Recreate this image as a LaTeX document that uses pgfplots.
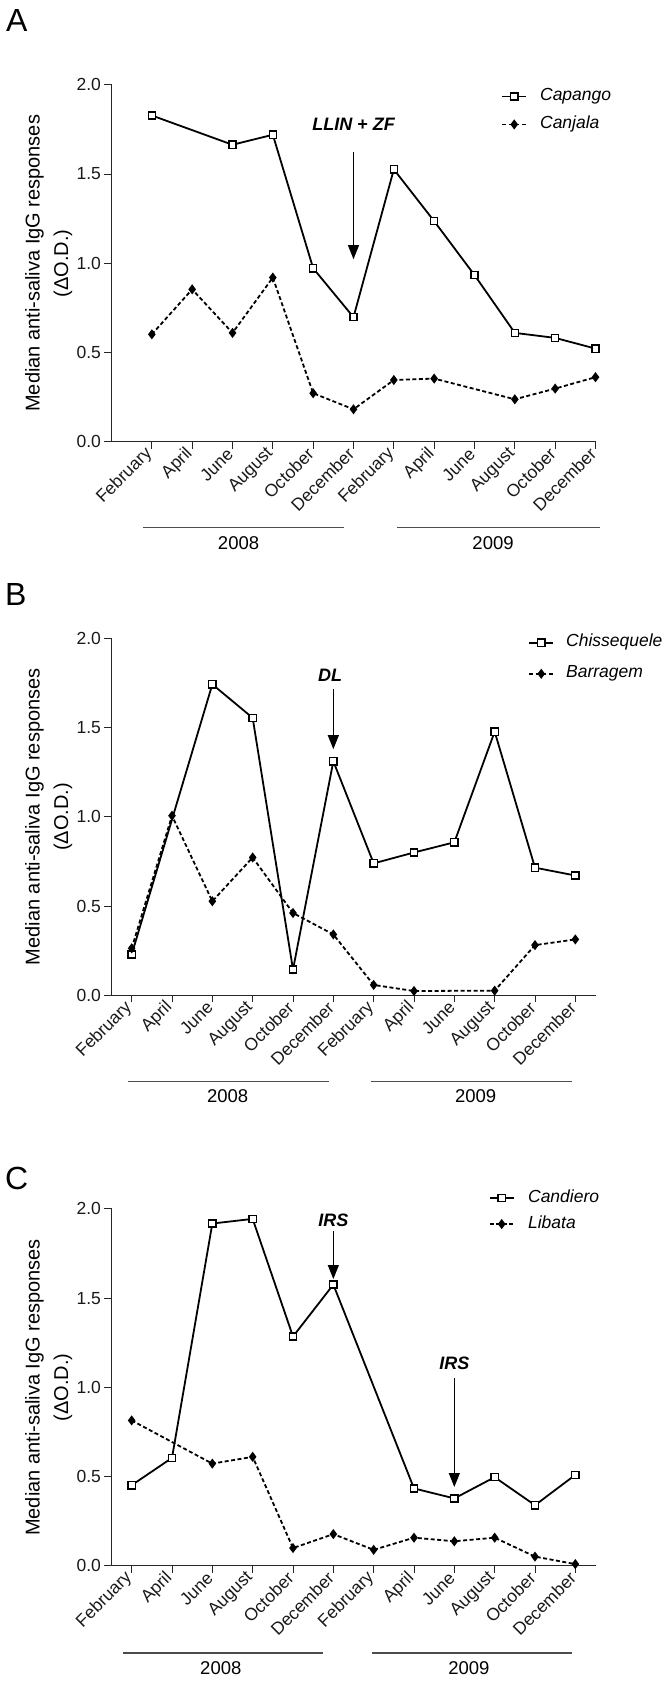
\documentclass[border=0pt]{standalone}
\usepackage{fontspec}
\setmainfont{Liberation Sans}
\usepackage{pgfplots}
\pgfplotsset{compat=1.18}
\usetikzlibrary{arrows.meta}
\pgfplotsset{
  panel/.style={
    scale only axis, width=484bp, height=357bp,
    axis x line*=bottom, axis y line*=left,
    axis line style={line width=0.9bp, black!85},
    every tick/.style={line width=0.9bp, black!85},
    tick align=outside, major tick length=7bp,
    ymin=0, ymax=2, ytick={0,0.5,1,1.5,2},
    /pgf/number format/assume math mode=true,
    yticklabel style={/pgf/number format/.cd, fixed, fixed zerofill, precision=1, /tikz/.cd, font=\fontsize{17.5bp}{20bp}\selectfont, text=black!90},
    xtick={0,...,11},
    xticklabels={February,April,June,August,October,December,February,April,June,August,October,December},
    xticklabel style={rotate=45, anchor=east, font=\fontsize{17.5bp}{20bp}\selectfont, text=black!90},
    ylabel={Median anti-saliva IgG responses\\(ΔO.D.)},
    ylabel style={align=center, font=\fontsize{20bp}{28.5bp}\selectfont, at={(axis description cs:-0.130,0.5)}, anchor=center},
    clip=false,
    legend cell align=left,
    legend style={draw=none, fill=none, inner sep=0pt, font=\fontsize{17.5bp}{20bp}\selectfont\itshape, nodes={inner sep=0pt, text height=12bp, text depth=4bp}},
    legend image code/.code={%
      \draw[##1, mark=none] (0bp,0bp) -- (24bp,0bp);
      \draw[##1] plot coordinates {(12bp,0bp)};},
  },
  solidser/.style={line width=1.8bp, black, mark=square*, mark size=3.6bp, mark options={solid, fill=white, draw=black, line width=1.4bp}},
  dashser/.style={line width=1.8bp, black, dash pattern=on 4bp off 2.5bp, mark=diamond*, mark size=3.6bp, mark options={solid, fill=black}},
}
\tikzset{
  arr/.style={line width=1.2bp, black, -{Triangle[width=11bp,length=14bp]}},
  ann/.style={font=\fontsize{18bp}{20bp}\selectfont\bfseries\itshape},
  yr/.style={font=\fontsize{18.5bp}{20bp}\selectfont},
  yrline/.style={line width=1.2bp, black!70},
}
\begin{document}
\begin{tikzpicture}
\useasboundingbox (0,0) rectangle (670bp,1683bp);
\node[anchor=base west, inner sep=0, font=\fontsize{32bp}{32bp}\selectfont] at (6bp,1651bp) {A};
\node[anchor=base west, inner sep=0, font=\fontsize{32bp}{32bp}\selectfont] at (5bp,1077bp) {B};
\node[anchor=base west, inner sep=0, font=\fontsize{32bp}{32bp}\selectfont] at (5bp,493bp) {C};

% Panel A
\begin{axis}[panel, at={(111.5bp,1241.2bp)}, anchor=south west, xmin=-1, xmax=11,
  legend style={at={(axis cs:8.66,1.856)}, anchor=west, row sep=11.9bp, column sep=13bp}]
\addplot[solidser] coordinates {(0,1.828) (2,1.664) (3,1.72) (4,0.972) (5,0.698) (6,1.526) (7,1.236) (8,0.934) (9,0.61) (10,0.582) (11,0.522)};
\addlegendentry{Capango}
\addplot[dashser] coordinates {(0,0.602) (1,0.854) (2,0.61) (3,0.92) (4,0.272) (5,0.182) (6,0.346) (7,0.354) (9,0.238) (10,0.298) (11,0.362)};
\addlegendentry{Canjala}
\draw[arr] (axis cs:5,1.623) -- (axis cs:5,1.023);
\node[ann] at (axis cs:5,1.78) {LLIN + ZF};
\draw[yrline] (axis cs:-0.22,-0.48) -- (axis cs:4.77,-0.48);
\draw[yrline] (axis cs:6.09,-0.48) -- (axis cs:11.1,-0.48);
\node[yr] at (axis cs:2.15,-0.57) {2008};
\node[yr] at (axis cs:8.46,-0.57) {2009};
\end{axis}

% Panel B
\begin{axis}[panel, at={(111.5bp,687.7bp)}, anchor=south west, xmin=-0.5, xmax=11.5,
  legend style={at={(axis cs:9.83,1.888)}, anchor=west, row sep=15bp, column sep=12bp}]
\addplot[solidser] coordinates {(0,0.228) (2,1.742) (3,1.554) (4,0.144) (5,1.311) (6,0.739) (7,0.80) (8,0.857) (9,1.477) (10,0.715) (11,0.671)};
\addlegendentry{Chissequele}
\addplot[dashser] coordinates {(0,0.263) (1,1.006) (2,0.527) (3,0.772) (4,0.461) (5,0.341) (6,0.058) (7,0.024) (9,0.026) (10,0.281) (11,0.313)};
\addlegendentry{Barragem}
\draw[arr] (axis cs:5,1.717) -- (axis cs:5,1.379);
\node[ann] at (axis cs:4.92,1.794) {DL};
\draw[yrline] (axis cs:-0.09,-0.484) -- (axis cs:4.89,-0.484);
\draw[yrline] (axis cs:5.94,-0.484) -- (axis cs:10.92,-0.484);
\node[yr] at (axis cs:2.38,-0.567) {2008};
\node[yr] at (axis cs:8.53,-0.567) {2009};
\end{axis}

% Panel C
\begin{axis}[panel, at={(111.5bp,117.1bp)}, anchor=south west, xmin=-0.5, xmax=11.5,
  legend style={at={(axis cs:8.85,1.988)}, anchor=west, row sep=10bp, column sep=13.5bp}]
\addplot[solidser] coordinates {(0,0.452) (1,0.605) (2,1.918) (3,1.944) (4,1.285) (5,1.576) (7,0.434) (8,0.378) (9,0.497) (10,0.34) (11,0.51)};
\addlegendentry{Candiero}
\addplot[dashser] coordinates {(0,0.815) (2,0.573) (3,0.611) (4,0.10) (5,0.178) (6,0.09) (7,0.158) (8,0.138) (9,0.158) (10,0.052) (11,0.01)};
\addlegendentry{Libata}
\draw[arr] (axis cs:5,1.878) -- (axis cs:5,1.607);
\node[ann] at (axis cs:5,1.938) {IRS};
\draw[arr] (axis cs:8,1.051) -- (axis cs:8,0.442);
\node[ann] at (axis cs:8,1.137) {IRS};
\draw[yrline] (axis cs:-0.22,-0.488) -- (axis cs:4.74,-0.488);
\draw[yrline] (axis cs:5.97,-0.488) -- (axis cs:10.92,-0.488);
\node[yr] at (axis cs:2.21,-0.572) {2008};
\node[yr] at (axis cs:8.36,-0.572) {2009};
\end{axis}
\end{tikzpicture}
\end{document}
